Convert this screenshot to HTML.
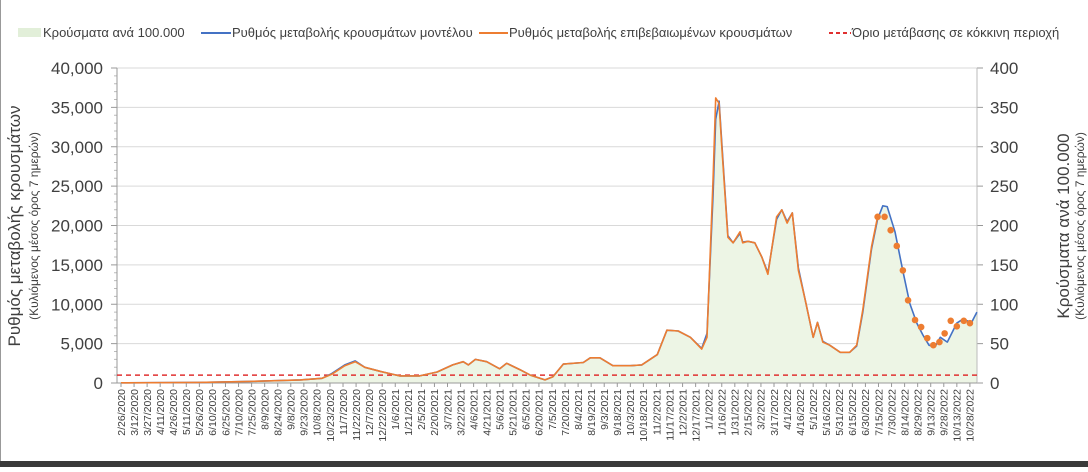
<!DOCTYPE html>
<html><head><meta charset="utf-8">
<style>
html,body{margin:0;padding:0;background:#fff;}
body{width:1088px;height:467px;overflow:hidden;font-family:"Liberation Sans","DejaVu Sans",sans-serif;}
svg text{font-family:"Liberation Sans","DejaVu Sans",sans-serif;}
</style></head>
<body>
<svg id="chart" width="1088" height="467" viewBox="0 0 1088 467" xmlns="http://www.w3.org/2000/svg">
<rect x="0" y="0" width="1088" height="467" fill="#fff"/>
<line x1="0.5" y1="0" x2="0.5" y2="467" stroke="#999" stroke-width="1"/>
<rect x="0" y="461" width="1088" height="6" fill="#3a3a3a"/>
<g id="legend">
  <g>
    <rect x="18" y="28" width="23" height="9" fill="#e2efd9"/>
    <text x="43" y="37" font-size="13" fill="#404040">Κρούσματα ανά 100.000</text>
  </g>
  <g>
    <line x1="201" y1="33" x2="231" y2="33" stroke="#4472c4" stroke-width="2"/>
    <text x="232" y="37" font-size="13" fill="#404040">Ρυθμός μεταβολής κρουσμάτων μοντέλου</text>
  </g>
  <g>
    <line x1="479" y1="33" x2="508" y2="33" stroke="#ed7d31" stroke-width="2"/>
    <text x="509" y="37" font-size="13" fill="#404040">Ρυθμός μεταβολής επιβεβαιωμένων κρουσμάτων</text>
  </g>
  <g>
    <line x1="829" y1="33" x2="851" y2="33" stroke="#e03030" stroke-width="2" stroke-dasharray="4,3"/>
    <text x="852" y="37" font-size="13" fill="#404040">Όριο μετάβασης σε κόκκινη περιοχή</text>
  </g>
</g>
<g>
  <text transform="translate(20,226) rotate(-90)" text-anchor="middle" font-size="17" fill="#404040">Ρυθμός μεταβολής κρουσμάτων</text>
  <text transform="translate(38,226) rotate(-90)" text-anchor="middle" font-size="12" fill="#404040">(Κυλιόμενος μέσος όρος 7 ημερών)</text>
</g>
<g>
  <text transform="translate(1069,226) rotate(-90)" text-anchor="middle" font-size="17" fill="#404040">Κρούσματα ανά 100.000</text>
  <text transform="translate(1084,226) rotate(-90)" text-anchor="middle" font-size="12" fill="#404040">(Κυλιόμενος μέσος όρος 7 ημερών)</text>
</g>
<g id="plot"></g>
</svg>
<script>
const leftTicks = [0,5000,10000,15000,20000,25000,30000,35000,40000];
const leftTickLabels = ["0","5,000","10,000","15,000","20,000","25,000","30,000","35,000","40,000"];
const rightTickLabels = ["0","50","100","150","200","250","300","350","400"];
const startDate = [2020,1,26];
const xLabelCount = 66;
const xLabelStepDays = 15;
const threshold = 1000;
const modelDays = [0,91,148,206,231,242,257,269,280,297,320,343,363,381,393,399,407,420,435,443,458,470,487,496,508,531,539,550,565,585,598,616,627,640,654,667,673,680,683,687,690,697,703,711,714,720,728,736,743,753,759,765,771,778,786,795,800,806,814,826,837,845,852,862,869,875,880,889,898,906,914,921,928,935,941,949,960,967,977,983];
const modelValues = [30,80,200,400,600,1200,2300,2800,2000,1500,900,900,1400,2300,2700,2300,3000,2700,1800,2500,1700,1000,400,800,2400,2600,3200,3200,2200,2200,2300,3600,6700,6600,5800,4400,6300,24000,33500,35800,30500,18700,17800,19000,17900,18000,17800,16000,14000,20800,22000,20500,21600,14600,10500,5800,7700,5300,4800,3900,3900,4700,9000,17000,20800,22500,22400,19200,14200,10100,7600,6100,4800,4600,5800,5200,7600,8100,7700,9000];
const confirmedDays = [0,91,148,206,231,242,257,269,280,297,320,343,363,381,393,399,407,420,435,443,458,470,487,496,508,531,539,550,565,585,598,616,627,640,654,667,673,680,683,687,690,697,703,711,714,720,728,736,743,753,759,765,771,778,786,795,800,806,814,826,837,845,852,862,869];
const confirmedValues = [30,80,200,400,600,1100,2200,2700,2000,1500,900,900,1400,2300,2700,2300,3000,2700,1800,2500,1700,1000,400,800,2400,2600,3200,3200,2200,2200,2300,3600,6700,6600,5800,4300,5800,26000,36200,35500,30000,18500,17800,19200,17800,18000,17800,16000,13800,21100,22000,20300,21600,14300,10500,5800,7700,5200,4800,3900,3900,4800,9300,17300,21100];
const dotDays = [869,877,884,891,898,904,912,919,926,933,940,946,953,960,968,975];
const dotValues = [211,211,194,174,143,105,80,71,57,48,52,63,79,72,79,76];

const NS="http://www.w3.org/2000/svg";
const plot=document.getElementById('plot');
const X0=121, PX_PER_DAY=13.06/15, YB=383, YT=68, YMAX=40000;
const left=117,right=977;
function xs(d){return X0+d*PX_PER_DAY;}
function ys(v){return YB-(v/YMAX)*(YB-YT);}
function yr(v){return ys(v*100);}
function mk(tag,attrs,parent){const e=document.createElementNS(NS,tag);for(const k in attrs)e.setAttribute(k,attrs[k]);(parent||plot).appendChild(e);return e;}

leftTicks.forEach((t,i)=>{
  const y=ys(t);
  if(t>0){const g=mk('line',{x1:left,x2:right,y1:y,y2:y,stroke:'#d9d9d9','stroke-width':1});
  
  }
  const lt=mk('text',{x:103,y:y+6,'text-anchor':'end','font-size':17,fill:'#404040'});
  lt.textContent=leftTickLabels[i];
  
  
  const rt=mk('text',{x:990,y:y+6,'font-size':17,fill:'#404040'});
  rt.textContent=rightTickLabels[i];
  
  
  mk('line',{x1:left-6,x2:left,y1:y,y2:y,stroke:'#999'});
  mk('line',{x1:right,x2:right+6,y1:y,y2:y,stroke:'#999'});
  if(t<YMAX){for(let m=1;m<5;m++){const my=ys(t+m*1000);mk('line',{x1:left-3,x2:left,y1:my,y2:my,stroke:'#bbb'});}}
});

let ap='M'+xs(modelDays[0])+','+YB;
modelDays.forEach((d,i)=>{ap+=' L'+xs(d).toFixed(1)+','+ys(modelValues[i]).toFixed(1);});
ap+=' L'+xs(modelDays[modelDays.length-1])+','+YB+' Z';
const area=mk('path',{d:ap,fill:'#edf5e5',stroke:'none'});



const la=mk('line',{x1:left,x2:left,y1:YT,y2:YB,stroke:'#999'});


const ra=mk('line',{x1:right,x2:right,y1:YT,y2:YB,stroke:'#bbb'});


const xa=mk('line',{x1:left,x2:right,y1:YB,y2:YB,stroke:'#999'});



const th=mk('line',{x1:left,x2:right,y1:ys(threshold),y2:ys(threshold),stroke:'#e03030','stroke-width':1.6,'stroke-dasharray':'5,4'});



function linePath(days,vals){return days.map((d,i)=>(i?'L':'M')+xs(d).toFixed(1)+','+ys(vals[i]).toFixed(1)).join(' ');}
const ml=mk('path',{d:linePath(modelDays,modelValues),fill:'none',stroke:'#4472c4','stroke-width':1.6,'stroke-linejoin':'round'});


const cl=mk('path',{d:linePath(confirmedDays,confirmedValues),fill:'none',stroke:'#ed7d31','stroke-width':1.6,'stroke-linejoin':'round'});



dotDays.forEach((d,i)=>{
  const c=mk('circle',{cx:xs(d),cy:yr(dotValues[i]),r:3.3,fill:'#ed7d31'});
  
  
});

const base=new Date(startDate[0],startDate[1],startDate[2],12);
for(let i=0;i<xLabelCount;i++){
  const d=i*xLabelStepDays;
  const dt=new Date(base.getTime()+d*86400000);
  const lbl=(dt.getMonth()+1)+'/'+dt.getDate()+'/'+dt.getFullYear();
  const x=xs(d);
  mk('line',{x1:x,x2:x,y1:YB,y2:YB+4,stroke:'#999'});
  const t=mk('text',{transform:'translate('+(x+3.8)+','+(YB+6)+') rotate(-90)','text-anchor':'end','font-size':10.5,fill:'#404040'});
  t.textContent=lbl;
  
  
}
</script>
</body></html>
